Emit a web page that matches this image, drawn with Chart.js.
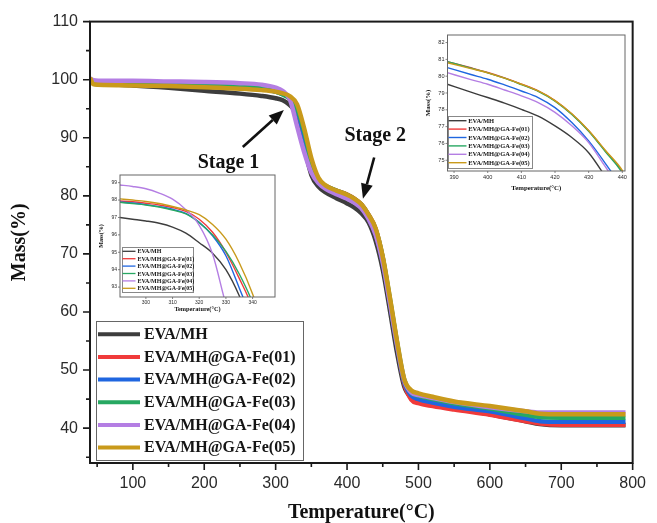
<!DOCTYPE html>
<html>
<head>
<meta charset="utf-8">
<script src="https://cdn.jsdelivr.net/npm/chart.js@4.4.1/dist/chart.umd.min.js"></script>
<style>
  body { margin: 0; background: #fff; }
  #wrap { position: relative; width: 657px; height: 523px; }
  canvas { position: absolute; }
</style>
</head>
<body>
<div id="wrap">
  <canvas id="main" width="657" height="523" style="left:0;top:0"></canvas>
  <canvas id="inset1" width="190" height="150" style="left:90px;top:168px"></canvas>
  <canvas id="inset2" width="215" height="170" style="left:418px;top:28px"></canvas>
</div>
<script>
const seriesNames = ['EVA/MH', 'EVA/MH@GA-Fe(01)', 'EVA/MH@GA-Fe(02)', 'EVA/MH@GA-Fe(03)', 'EVA/MH@GA-Fe(04)', 'EVA/MH@GA-Fe(05)'];
const seriesColors = ['#3d3d3d', '#f03a3a', '#1f66e0', '#27a862', '#b47ee3', '#c99a1b'];

// main plot, full run
const mainTemp = [40, 45, 60, 100, 150, 200, 250, 280, 300, 310, 320, 330, 340, 350, 360, 370, 385, 400, 410, 420, 430, 440, 450, 460, 470, 480, 490, 500, 520, 550, 600, 650, 670, 700, 750, 790];
const massMH   = [100.0, 99.3, 99.2, 99.0, 98.6, 98.1, 97.6, 97.2, 96.8, 96.45, 95.6, 93.9, 88.5, 83.6, 81.6, 80.6, 79.6, 78.7, 78.0, 77.0, 75.45, 72.3, 67.3, 60.3, 53.0, 47.2, 45.3, 44.8, 44.2, 43.4, 42.4, 41.2, 40.7, 40.5, 40.5, 40.5];
const massFe01 = [100.1, 99.6, 99.5, 99.4, 99.3, 99.1, 98.8, 98.5, 98.05, 97.6, 96.9, 95.0, 90.8, 85.5, 82.6, 81.7, 80.9, 80.22, 79.53, 78.55, 76.75, 74.3, 69.3, 62.0, 54.5, 47.8, 44.9, 44.3, 43.8, 43.2, 42.3, 41.2, 40.8, 40.6, 40.6, 40.6];
const massFe02 = [100.0, 99.4, 99.4, 99.3, 99.2, 99.0, 98.7, 98.4, 97.95, 97.5, 96.72, 94.8, 90.3, 85.2, 82.3, 81.4, 80.6, 79.82, 79.12, 78.13, 76.15, 73.5, 68.6, 61.7, 54.3, 48.0, 45.6, 45.0, 44.4, 43.7, 42.9, 41.7, 41.2, 41.1, 41.1, 41.1];
const massFe03 = [100.1, 99.6, 99.6, 99.5, 99.4, 99.2, 98.9, 98.5, 97.95, 97.45, 96.7, 95.05, 91.1, 85.8, 82.7, 81.7, 80.9, 80.2, 79.5, 78.52, 76.72, 74.25, 69.4, 62.3, 54.8, 48.4, 46.1, 45.6, 45.0, 44.3, 43.4, 42.3, 41.9, 41.8, 41.8, 41.8];
const massFe04 = [100.2, 99.9, 99.8, 99.8, 99.7, 99.6, 99.4, 99.15, 98.65, 98.05, 96.55, 92.0, 87.5, 84.0, 82.2, 81.2, 80.3, 79.52, 78.83, 77.85, 76.05, 73.3, 68.5, 61.6, 54.4, 48.3, 46.1, 45.7, 45.2, 44.5, 43.6, 42.9, 42.7, 42.7, 42.7, 42.7];
const massFe05 = [100.3, 99.2, 99.1, 99.0, 98.9, 98.7, 98.45, 98.2, 97.92, 97.63, 97.16, 95.75, 91.6, 86.5, 83.1, 81.8, 80.9, 80.2, 79.52, 78.55, 76.77, 74.4, 69.5, 62.5, 55.0, 48.5, 46.5, 46.0, 45.4, 44.6, 43.8, 42.9, 42.5, 42.4, 42.4, 42.4];
const mainXTicks = [50, 100, 150, 200, 250, 300, 350, 400, 450, 500, 550, 600, 650, 700, 750, 800];
const mainYTicks = [35, 40, 45, 50, 55, 60, 65, 70, 75, 80, 85, 90, 95, 100, 105, 110];

// inset 1: stage 1 close-up
const inset1Temp = [290, 295, 300, 305, 310, 315, 320, 325, 330, 335, 340, 345, 350];
const in1MH   = [97.0, 96.9, 96.8, 96.67, 96.45, 96.1, 95.55, 94.95, 94.0, 92.5, 90.5, 88.2, 85.5];
const in1Fe01 = [97.95, 97.9, 97.82, 97.72, 97.57, 97.35, 96.9, 96.15, 95.0, 93.5, 91.8, 89.3, 86.5];
const in1Fe02 = [97.9, 97.83, 97.74, 97.62, 97.47, 97.23, 96.72, 95.95, 94.8, 92.95, 91.0, 88.6, 86.0];
const in1Fe03 = [97.87, 97.8, 97.72, 97.6, 97.43, 97.2, 96.7, 96.0, 95.05, 93.75, 92.1, 89.8, 87.0];
const in1Fe04 = [98.87, 98.78, 98.65, 98.4, 98.05, 97.45, 96.55, 94.9, 92.0, 89.6, 88.5, 86.5, 85.0];
const in1Fe05 = [98.07, 98.0, 97.92, 97.8, 97.63, 97.43, 97.16, 96.6, 95.75, 94.4, 92.6, 90.2, 87.5];
const inset1XTicks = [300, 310, 320, 330, 340];
const inset1YTicks = [93, 94, 95, 96, 97, 98, 99];

// inset 2: stage 2 close-up
const inset2Temp = [388, 395, 400, 405, 410, 415, 420, 425, 430, 435, 440, 445];
const in2MH   = [79.52, 79.05, 78.73, 78.4, 78.03, 77.62, 77.04, 76.35, 75.45, 74.0, 72.3, 70.0];
const in2Fe01 = [80.87, 80.5, 80.22, 79.9, 79.53, 79.12, 78.55, 77.75, 76.75, 75.55, 74.3, 72.3];
const in2Fe02 = [80.51, 80.1, 79.82, 79.48, 79.12, 78.73, 78.13, 77.24, 76.15, 74.8, 73.3, 71.2];
const in2Fe03 = [80.87, 80.48, 80.2, 79.88, 79.5, 79.1, 78.52, 77.72, 76.72, 75.5, 74.25, 72.3];
const in2Fe04 = [80.21, 79.8, 79.52, 79.18, 78.83, 78.43, 77.85, 77.05, 76.05, 74.6, 73.1, 71.0];
const in2Fe05 = [80.8, 80.45, 80.2, 79.88, 79.52, 79.12, 78.55, 77.76, 76.77, 75.58, 74.4, 72.5];
const inset2XTicks = [390, 400, 410, 420, 430, 440];
const inset2YTicks = [75, 76, 77, 78, 79, 80, 81, 82];

const stageNotes = [
  { text: 'Stage 1', at: [234, 85.7], from: [254, 88.4], to: [311.5, 94.8] },
  { text: 'Stage 2', at: [439.5, 90.3], from: [438, 86.6], to: [422.3, 79.5] },
];

const SERIF = "'Liberation Serif', 'Times New Roman', serif";
const SANS = "'Liberation Sans', Arial, sans-serif";

function makeSets(temps, lists, width) {
  return lists.map((vals, i) => ({
    label: seriesNames[i],
    data: temps.map((t, k) => ({ x: t, y: vals[k] })),
    borderColor: seriesColors[i],
    borderWidth: width,
    pointRadius: 0,
    fill: false,
    cubicInterpolationMode: 'monotone',
    order: lists.length - i,
  }));
}

// frame round the plot area + outward tick marks
const axisBox = {
  id: 'axisBox',
  afterDatasetsDraw(chart, args, o) {
    const { ctx, chartArea: a, scales: { x, y } } = chart;
    ctx.save();
    ctx.strokeStyle = o.color;
    ctx.lineWidth = o.width;
    ctx.strokeRect(a.left, a.top, a.right - a.left, a.bottom - a.top);
    ctx.lineWidth = o.tickWidth;
    ctx.beginPath();
    x.ticks.forEach(t => {
      const px = x.getPixelForValue(t.value);
      const len = t.label === '' ? o.minor : o.major;
      ctx.moveTo(px, a.bottom);
      ctx.lineTo(px, a.bottom + len);
    });
    y.ticks.forEach(t => {
      const py = y.getPixelForValue(t.value);
      const len = t.label === '' ? o.minor : o.major;
      ctx.moveTo(a.left, py);
      ctx.lineTo(a.left - len, py);
    });
    ctx.stroke();
    ctx.restore();
  }
};

const boxLegend = {
  id: 'boxLegend',
  afterDatasetsDraw(chart, args, o) {
    const ctx = chart.ctx;
    ctx.save();
    ctx.fillStyle = '#fff';
    ctx.fillRect(o.x, o.y, o.w, o.h);
    ctx.strokeStyle = o.border;
    ctx.lineWidth = 1;
    ctx.strokeRect(o.x + 0.5, o.y + 0.5, o.w, o.h);
    ctx.font = o.font;
    ctx.textBaseline = 'middle';
    ctx.textAlign = 'left';
    chart.data.datasets.forEach((ds, i) => {
      const y = o.y + o.first + i * o.row;
      ctx.strokeStyle = ds.borderColor;
      ctx.lineWidth = o.lw;
      ctx.beginPath();
      ctx.moveTo(o.x + o.pad, y);
      ctx.lineTo(o.x + o.pad + o.len, y);
      ctx.stroke();
      ctx.fillStyle = '#151515';
      ctx.fillText(ds.label, o.x + o.pad + o.len + o.gap, y + 0.5);
    });
    ctx.restore();
  }
};

const stageMarks = {
  id: 'stageMarks',
  afterDatasetsDraw(chart, args, o) {
    const { ctx, scales: { x, y } } = chart;
    ctx.save();
    ctx.strokeStyle = '#111';
    ctx.fillStyle = '#111';
    o.notes.forEach(n => {
      const fx = x.getPixelForValue(n.from[0]), fy = y.getPixelForValue(n.from[1]);
      const tx = x.getPixelForValue(n.to[0]), ty = y.getPixelForValue(n.to[1]);
      const ang = Math.atan2(ty - fy, tx - fx);
      const bx = tx - o.head * Math.cos(ang), by = ty - o.head * Math.sin(ang);
      ctx.lineWidth = 2.6;
      ctx.beginPath();
      ctx.moveTo(fx, fy);
      ctx.lineTo(bx, by);
      ctx.stroke();
      ctx.beginPath();
      ctx.moveTo(tx, ty);
      ctx.lineTo(bx + o.half * Math.sin(ang), by - o.half * Math.cos(ang));
      ctx.lineTo(bx - o.half * Math.sin(ang), by + o.half * Math.cos(ang));
      ctx.closePath();
      ctx.fill();
      ctx.font = o.font;
      ctx.textAlign = 'center';
      ctx.textBaseline = 'middle';
      ctx.fillText(n.text, x.getPixelForValue(n.at[0]), y.getPixelForValue(n.at[1]));
    });
    ctx.restore();
  }
};

function axis(min, max, tickList, every, cfg) {
  return {
    type: 'linear',
    min: min,
    max: max,
    afterBuildTicks: s => { s.ticks = tickList.map(v => ({ value: v })); },
    afterFit: s => { if (cfg.width) s.width = cfg.width; if (cfg.height) s.height = cfg.height; },
    grid: { display: false, drawTicks: false },
    border: { display: false },
    ticks: {
      autoSkip: false,
      maxRotation: 0,
      padding: cfg.pad,
      color: '#2a2a2a',
      font: { family: SANS, size: cfg.tickSize },
      callback: v => (v % every === 0 ? v : ''),
    },
    title: {
      display: true,
      text: cfg.title,
      color: '#111',
      font: { family: SERIF, size: cfg.titleSize, weight: 'bold', lineHeight: 1 },
      padding: cfg.titlePad,
    },
  };
}

function baseOptions(padding, scales, extra) {
  return {
    responsive: false,
    animation: false,
    events: [],
    layout: { padding: padding },
    scales: scales,
    plugins: Object.assign({ legend: { display: false }, tooltip: { enabled: false } }, extra),
  };
}

new Chart(document.getElementById('main'), {
  type: 'line',
  data: { datasets: makeSets(mainTemp, [massMH, massFe01, massFe02, massFe03, massFe04, massFe05], 4.5) },
  options: baseOptions(
    { left: 0, right: 15, top: 19, bottom: 0 },
    {
      x: axis(40, 800, mainXTicks, 100, { height: 60, pad: 11, tickSize: 16, title: 'Temperature(°C)', titleSize: 20, titlePad: { top: 0, bottom: 0 } }),
      y: axis(34, 110, mainYTicks, 10, { width: 90, pad: 12, tickSize: 16, title: 'Mass(%)', titleSize: 20, titlePad: { top: 10, bottom: 0 } }),
    },
    {
      axisBox: { color: '#1a1a1a', width: 2, tickWidth: 1.6, major: 7, minor: 4 },
      boxLegend: { x: 96, y: 321, w: 207, h: 139, first: 13.3, row: 22.65, pad: 2, len: 42, gap: 4, lw: 4, border: '#666', font: 'bold 16px ' + SERIF },
      stageMarks: { notes: stageNotes, head: 15, half: 6, font: 'bold 20px ' + SERIF },
    }
  ),
  plugins: [axisBox, boxLegend, stageMarks],
});

new Chart(document.getElementById('inset1'), {
  type: 'line',
  data: { datasets: makeSets(inset1Temp, [in1MH, in1Fe01, in1Fe02, in1Fe03, in1Fe04, in1Fe05], 1.4) },
  options: baseOptions(
    { left: 0, right: 5, top: 7, bottom: 0 },
    {
      x: axis(290.3, 348.4, inset1XTicks, 10, { height: 21, pad: 3, tickSize: 5, title: 'Temperature(°C)', titleSize: 6.3, titlePad: { top: 0, bottom: 5 } }),
      y: axis(92.43, 99.44, inset1YTicks, 1, { width: 30, pad: 3, tickSize: 5, title: 'Mass(%)', titleSize: 6, titlePad: { top: 8, bottom: 0 } }),
    },
    {
      axisBox: { color: '#666', width: 1, tickWidth: 0.8, major: 2, minor: 1 },
      boxLegend: { x: 32, y: 79, w: 71, h: 45, first: 4.3, row: 7.4, pad: 0.5, len: 13, gap: 2, lw: 1.3, border: '#888', font: 'bold 6px ' + SERIF },
    }
  ),
  plugins: [axisBox, boxLegend],
});

new Chart(document.getElementById('inset2'), {
  type: 'line',
  data: { datasets: makeSets(inset2Temp, [in2MH, in2Fe01, in2Fe02, in2Fe03, in2Fe04, in2Fe05], 1.4) },
  options: baseOptions(
    { left: 0, right: 8, top: 7, bottom: 0 },
    {
      x: axis(388.05, 440.8, inset2XTicks, 10, { height: 27, pad: 3.5, tickSize: 5.6, title: 'Temperature(°C)', titleSize: 6.8, titlePad: { top: 0, bottom: 6.8 } }),
      y: axis(74.36, 82.45, inset2YTicks, 1, { width: 29.5, pad: 3, tickSize: 5.6, title: 'Mass(%)', titleSize: 6.8, titlePad: { top: 6.8, bottom: 0 } }),
    },
    {
      axisBox: { color: '#666', width: 1, tickWidth: 0.8, major: 2, minor: 1 },
      boxLegend: { x: 30, y: 88, w: 84, h: 52, first: 4.7, row: 8.4, pad: 0.5, len: 18, gap: 1.7, lw: 1.4, border: '#888', font: 'bold 6.5px ' + SERIF },
    }
  ),
  plugins: [axisBox, boxLegend],
});
</script>
</body>
</html>
